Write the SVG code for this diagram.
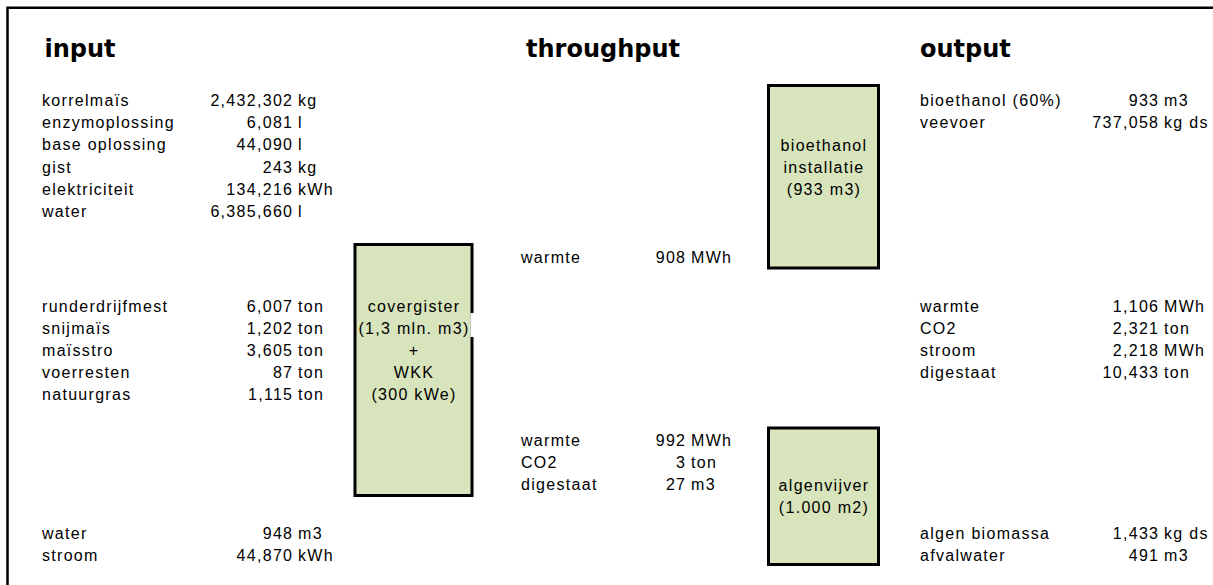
<svg xmlns="http://www.w3.org/2000/svg" width="1213" height="585" viewBox="0 0 1213 585">
<style>
.t{font-family:"Liberation Sans",Arial,sans-serif;font-size:16px;letter-spacing:1.3px;fill:#000}
.h{font-family:"DejaVu Sans",Verdana,sans-serif;font-weight:bold;font-size:24px;fill:#000}
.n{text-anchor:end}
.c{text-anchor:middle}
.box{fill:#D8E4BC;stroke:#000;stroke-width:3}
</style>
<rect width="1213" height="585" fill="#fff"/>
<path d="M7.5,585 V7.8 H1213" fill="none" stroke="#000" stroke-width="2.5"/>
<g id="titles">
<text class="h" x="44.5" y="57">input</text>
<text class="h" x="526" y="57">throughput</text>
<text class="h" x="920" y="57">output</text>
</g>
<g id="input-bioethanol" class="t">
<text x="42" y="106">korrelmaïs</text><text class="n" x="293.3" y="106">2,432,302</text><text x="298" y="106">kg</text>
<text x="42" y="128.2">enzymoplossing</text><text class="n" x="293.3" y="128.2">6,081</text><text x="298" y="128.2">l</text>
<text x="42" y="150.4">base oplossing</text><text class="n" x="293.3" y="150.4">44,090</text><text x="298" y="150.4">l</text>
<text x="42" y="172.6">gist</text><text class="n" x="293.3" y="172.6">243</text><text x="298" y="172.6">kg</text>
<text x="42" y="194.8">elektriciteit</text><text class="n" x="293.3" y="194.8">134,216</text><text x="298" y="194.8">kWh</text>
<text x="42" y="217">water</text><text class="n" x="293.3" y="217">6,385,660</text><text x="298" y="217">l</text>
</g>
<g id="input-covergister" class="t">
<text x="42" y="311.5">runderdrijfmest</text><text class="n" x="293.3" y="311.5">6,007</text><text x="298" y="311.5">ton</text>
<text x="42" y="333.7">snijmaïs</text><text class="n" x="293.3" y="333.7">1,202</text><text x="298" y="333.7">ton</text>
<text x="42" y="355.9">maïsstro</text><text class="n" x="293.3" y="355.9">3,605</text><text x="298" y="355.9">ton</text>
<text x="42" y="378.1">voerresten</text><text class="n" x="293.3" y="378.1">87</text><text x="298" y="378.1">ton</text>
<text x="42" y="400.3">natuurgras</text><text class="n" x="293.3" y="400.3">1,115</text><text x="298" y="400.3">ton</text>
</g>
<g id="input-algen" class="t">
<text x="42" y="538.5">water</text><text class="n" x="293.3" y="538.5">948</text><text x="298" y="538.5">m3</text>
<text x="42" y="560.7">stroom</text><text class="n" x="293.3" y="560.7">44,870</text><text x="298" y="560.7">kWh</text>
</g>
<g id="covergister">
<rect class="box" x="355" y="244.5" width="117" height="251"/>
<rect x="470.4" y="313" width="3.6" height="24" fill="#fff"/>
<g class="t c">
<text x="414" y="311.5">covergister</text>
<text x="414" y="333.7">(1,3 mln. m3)</text>
<text x="414" y="355.9">+</text>
<text x="414" y="378.1">WKK</text>
<text x="414" y="400.3">(300 kWe)</text>
</g>
</g>
<g id="bioethanol-installatie">
<rect class="box" x="768.5" y="85.5" width="110" height="182.5"/>
<g class="t c">
<text x="824" y="151">bioethanol</text>
<text x="824" y="173">installatie</text>
<text x="824" y="194.8">(933 m3)</text>
</g>
</g>
<g id="algenvijver">
<rect class="box" x="768.5" y="428" width="110" height="136.5"/>
<g class="t c">
<text x="824" y="490.5">algenvijver</text>
<text x="824" y="513">(1.000 m2)</text>
</g>
</g>
<g id="throughput-warmte" class="t">
<text x="521" y="262.5">warmte</text><text class="n" x="686.3" y="262.5">908</text><text x="691" y="262.5">MWh</text>
</g>
<g id="throughput-algen" class="t">
<text x="521" y="445.5">warmte</text><text class="n" x="686.3" y="445.5">992</text><text x="691" y="445.5">MWh</text>
<text x="521" y="467.7">CO2</text><text class="n" x="686.3" y="467.7">3</text><text x="691" y="467.7">ton</text>
<text x="521" y="489.9">digestaat</text><text class="n" x="686.3" y="489.9">27</text><text x="691" y="489.9">m3</text>
</g>
<g id="output-bioethanol" class="t">
<text x="920" y="106">bioethanol (60%)</text><text class="n" x="1159.3" y="106">933</text><text x="1164" y="106">m3</text>
<text x="920" y="128.2">veevoer</text><text class="n" x="1159.3" y="128.2">737,058</text><text x="1164" y="128.2">kg ds</text>
</g>
<g id="output-covergister" class="t">
<text x="920" y="311.5">warmte</text><text class="n" x="1159.3" y="311.5">1,106</text><text x="1164" y="311.5">MWh</text>
<text x="920" y="333.7">CO2</text><text class="n" x="1159.3" y="333.7">2,321</text><text x="1164" y="333.7">ton</text>
<text x="920" y="355.9">stroom</text><text class="n" x="1159.3" y="355.9">2,218</text><text x="1164" y="355.9">MWh</text>
<text x="920" y="378.1">digestaat</text><text class="n" x="1159.3" y="378.1">10,433</text><text x="1164" y="378.1">ton</text>
</g>
<g id="output-algen" class="t">
<text x="920" y="538.5">algen biomassa</text><text class="n" x="1159.3" y="538.5">1,433</text><text x="1164" y="538.5">kg ds</text>
<text x="920" y="560.7">afvalwater</text><text class="n" x="1159.3" y="560.7">491</text><text x="1164" y="560.7">m3</text>
</g>
</svg>
